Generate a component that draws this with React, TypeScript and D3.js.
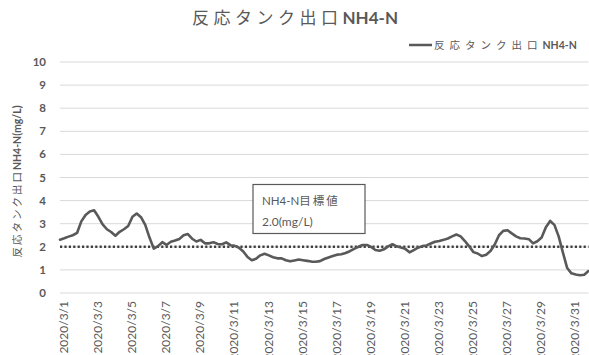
import React from 'react';
import * as d3 from 'd3';

// Chart text
const chartTitleJa = '反応タンク出口';
const chartTitleEn = 'NH4-N';
const seriesNameJa = '反応タンク出口';
const seriesNameEn = 'NH4-N';
const yAxisTitleJa = '反応タンク出口';
const yAxisTitleEn = 'NH4-N(mg/L)';
const targetLabelLines = ['NH4-N目標値', '2.0(mg/L)'];
const targetValue = 2.0;

// Axes
const yTicks = [0, 1, 2, 3, 4, 5, 6, 7, 8, 9, 10];
const xTickLabels = [
  '2020/3/1', '2020/3/3', '2020/3/5', '2020/3/7', '2020/3/9', '2020/3/11',
  '2020/3/13', '2020/3/15', '2020/3/17', '2020/3/19', '2020/3/21', '2020/3/23',
  '2020/3/25', '2020/3/27', '2020/3/29', '2020/3/31',
];
const xDomain = ['2020/3/1', '2020/4/1'];

// Measurements: one reading every 6 hours from 2020/3/1 00:00 (mg/L)
const sampleStart = '2020/3/1';
const sampleStepHours = 6;
const nh4Values = [
  2.31, 2.37, 2.44, 2.50, 2.60, 3.10, 3.38, 3.53, 3.58, 3.30,
  2.97, 2.76, 2.64, 2.48, 2.65, 2.76, 2.90, 3.30, 3.44, 3.28,
  2.95, 2.40, 1.92, 2.03, 2.20, 2.08, 2.22, 2.27, 2.34, 2.50,
  2.55, 2.35, 2.23, 2.30, 2.15, 2.15, 2.20, 2.12, 2.11, 2.19,
  2.07, 2.04, 1.96, 1.80, 1.56, 1.42, 1.48, 1.63, 1.70, 1.63,
  1.55, 1.50, 1.50, 1.42, 1.37, 1.41, 1.45, 1.42, 1.39, 1.36,
  1.35, 1.38, 1.47, 1.54, 1.60, 1.66, 1.68, 1.73, 1.81, 1.91,
  2.00, 2.08, 2.08, 1.99, 1.86, 1.83, 1.89, 2.02, 2.11, 2.02,
  1.97, 1.91, 1.76, 1.86, 1.96, 2.03, 2.06, 2.14, 2.22, 2.25,
  2.30, 2.36, 2.45, 2.53, 2.45, 2.25, 2.02, 1.77, 1.71, 1.60,
  1.66, 1.82, 2.10, 2.50, 2.69, 2.72, 2.58, 2.45, 2.37, 2.36,
  2.33, 2.15, 2.24, 2.40, 2.85, 3.12, 2.95, 2.45, 1.75, 1.08,
  0.85, 0.80, 0.77, 0.79, 0.95,
];

const W = 589;
const H = 355;
const plot = { left: 60, right: 588.5, top: 62, bottom: 293 };
const ink = '#595959';
const gridColor = '#d9d9d9';
const latin = 'Lato, "Liberation Sans", sans-serif';
const cjk = '"Noto Sans CJK JP", sans-serif';

const parseDay = d3.timeParse('%Y/%m/%d');

export default function App() {
  const x = d3
    .scaleTime()
    .domain(xDomain.map((s) => parseDay(s) as Date))
    .range([plot.left, plot.right]);
  const y = d3.scaleLinear().domain([0, 10]).range([plot.bottom, plot.top]);

  const t0 = (parseDay(sampleStart) as Date).getTime();
  const points: [Date, number][] = nh4Values.map((v, i) => [
    new Date(t0 + i * sampleStepHours * 3600 * 1000),
    v,
  ]);
  const line = d3
    .line<[Date, number]>()
    .x((d) => x(d[0]))
    .y((d) => y(d[1]));

  const yTarget = y(targetValue);

  return (
    <svg
      width={W}
      height={H}
      style={{ position: 'absolute', left: 0, top: 0, background: '#fff' }}
    >
      <rect x={0} y={0} width={W} height={H} fill="#fff" />

      {/* title */}
      <text x={295} y={24} textAnchor="middle" fill={ink} fontSize={17}>
        <tspan fontFamily={cjk} letterSpacing={4.5}>{chartTitleJa}</tspan>
        <tspan fontFamily={latin} fontWeight="bold">{chartTitleEn}</tspan>
      </text>

      {/* legend */}
      <line x1={409} x2={432} y1={45} y2={45} stroke={ink} strokeWidth={2.5} />
      <text x={434} y={49} fill={ink} fontSize={10.5}>
        <tspan fontFamily={cjk} letterSpacing={5}>{seriesNameJa}</tspan>
        <tspan fontFamily={latin} fontWeight="bold">{seriesNameEn}</tspan>
      </text>

      {/* gridlines */}
      {yTicks.map((t) => (
        <line
          key={t}
          x1={plot.left}
          x2={plot.right}
          y1={y(t)}
          y2={y(t)}
          stroke={gridColor}
          strokeWidth={1}
        />
      ))}

      {/* y tick labels */}
      {yTicks.map((t) => (
        <text
          key={t}
          x={46}
          y={y(t)}
          dy="0.35em"
          textAnchor="end"
          fill={ink}
          fontFamily={latin}
          fontWeight="bold"
          fontSize={11.5}
        >
          {t}
        </text>
      ))}

      {/* y axis title */}
      <text
        transform={`translate(21,${(plot.top + plot.bottom) / 2 + 4}) rotate(-90)`}
        textAnchor="middle"
        fill={ink}
        fontSize={10.5}
      >
        <tspan fontFamily={cjk} letterSpacing={2}>{yAxisTitleJa}</tspan>
        <tspan fontFamily={latin} fontWeight="bold">{yAxisTitleEn}</tspan>
      </text>

      {/* x tick labels */}
      {xTickLabels.map((s) => {
        const px = x(parseDay(s) as Date) + 3.5;
        return (
          <text
            key={s}
            transform={`translate(${px},${plot.bottom + 8}) rotate(-90)`}
            textAnchor="end"
            dominantBaseline="central"
            fill={ink}
            fontFamily={latin}
            fontSize={12}
          >
            {s}
          </text>
        );
      })}

      {/* target line */}
      <line
        x1={plot.left}
        x2={plot.right}
        y1={yTarget}
        y2={yTarget}
        stroke="#404040"
        strokeWidth={2.5}
        strokeDasharray="2.2 2.2"
      />

      {/* series */}
      <path
        d={line(points) ?? ''}
        fill="none"
        stroke={ink}
        strokeWidth={2.6}
        strokeLinejoin="round"
        strokeLinecap="round"
      />

      {/* target annotation */}
      <rect x={253} y={184.5} width={112} height={49} fill="#fff" stroke={ink} strokeWidth={1.2} />
      <text x={262} y={205} fill={ink} fontSize={11.5}>
        <tspan fontFamily={latin}>{targetLabelLines[0].slice(0, 5)}</tspan>
        <tspan fontFamily={cjk} letterSpacing={2}>{targetLabelLines[0].slice(5)}</tspan>
      </text>
      <text x={262} y={226} fill={ink} fontSize={12} fontFamily={latin}>
        {targetLabelLines[1]}
      </text>
    </svg>
  );
}
